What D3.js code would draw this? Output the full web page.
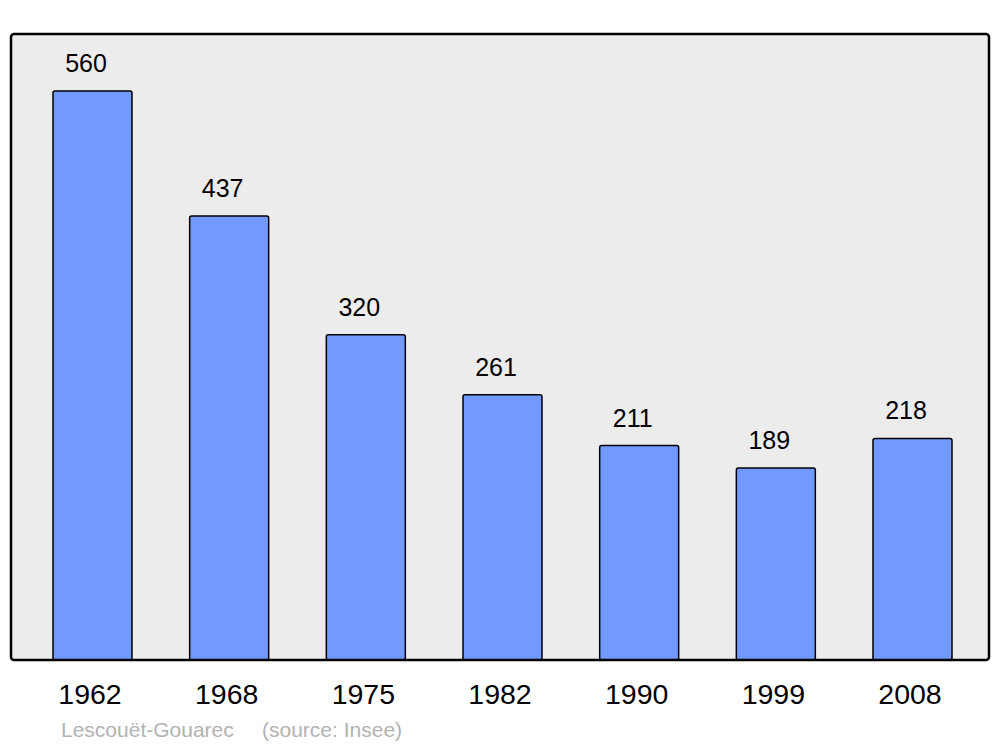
<!DOCTYPE html>
<html><head><meta charset="utf-8">
<script src="https://cdn.jsdelivr.net/npm/d3@7"></script>
<style>body{margin:0;background:#fff}svg{display:block}</style>
</head><body>
<script>
const years = ["1962","1968","1975","1982","1990","1999","2008"];
const population = [560,437,320,261,211,189,218];
const place = "Lescouët-Gouarec";
const sourceText = "(source: Insee)";

const W = 1000, H = 747;
const svg = d3.select("body").append("svg").attr("width", W).attr("height", H);

const frame = {x0: 11, y0: 34, x1: 989, y1: 660};
svg.append("rect").attr("x", frame.x0).attr("y", frame.y0)
  .attr("width", frame.x1 - frame.x0).attr("height", frame.y1 - frame.y0)
  .attr("rx", 3).attr("ry", 3)
  .attr("fill", "#ececec").attr("stroke", "none");

const x = d3.scaleBand().domain(years).range([53, 952]).paddingInner(0.422).paddingOuter(0);
const y = d3.scaleLinear().domain([0, 616]).range([frame.y1, frame.y0]);

const data = years.map((yr, i) => ({year: yr, value: population[i]}));

svg.append("g").selectAll("rect").data(data).join("rect")
  .attr("x", d => x(d.year)).attr("y", d => y(d.value))
  .attr("width", x.bandwidth()).attr("height", d => y(0) - y(d.value))
  .attr("rx", 2).attr("ry", 2)
  .attr("fill", "#7299ff").attr("stroke", "#000").attr("stroke-width", 1.5);

// frame outline on top
svg.append("rect").attr("x", frame.x0).attr("y", frame.y0)
  .attr("width", frame.x1 - frame.x0).attr("height", frame.y1 - frame.y0)
  .attr("rx", 3).attr("ry", 3)
  .attr("fill", "none").attr("stroke", "#000").attr("stroke-width", 2.5);

svg.append("g").selectAll("text").data(data).join("text")
  .attr("x", d => x(d.year) + x.bandwidth()/2 - 6.5)
  .attr("y", d => y(d.value) - 19)
  .attr("text-anchor", "middle")
  .attr("font-family", "Liberation Sans, Arial, sans-serif")
  .attr("font-size", 25)
  .attr("fill", "#000")
  .text(d => d.value);

svg.append("g").selectAll("text").data(data).join("text")
  .attr("x", d => x(d.year) + x.bandwidth()/2 - 2.5)
  .attr("y", 704)
  .attr("text-anchor", "middle")
  .attr("font-family", "Liberation Sans, Arial, sans-serif")
  .attr("font-size", 28.5)
  .attr("fill", "#000")
  .text(d => d.year);

const foot = svg.append("text").attr("x", 61).attr("y", 737)
  .attr("font-family", "Liberation Sans, Arial, sans-serif")
  .attr("font-size", 21).attr("fill", "#b3b3b3");
foot.append("tspan").text(place);
foot.append("tspan").attr("x", 262).text(sourceText);
</script>
</body></html>
